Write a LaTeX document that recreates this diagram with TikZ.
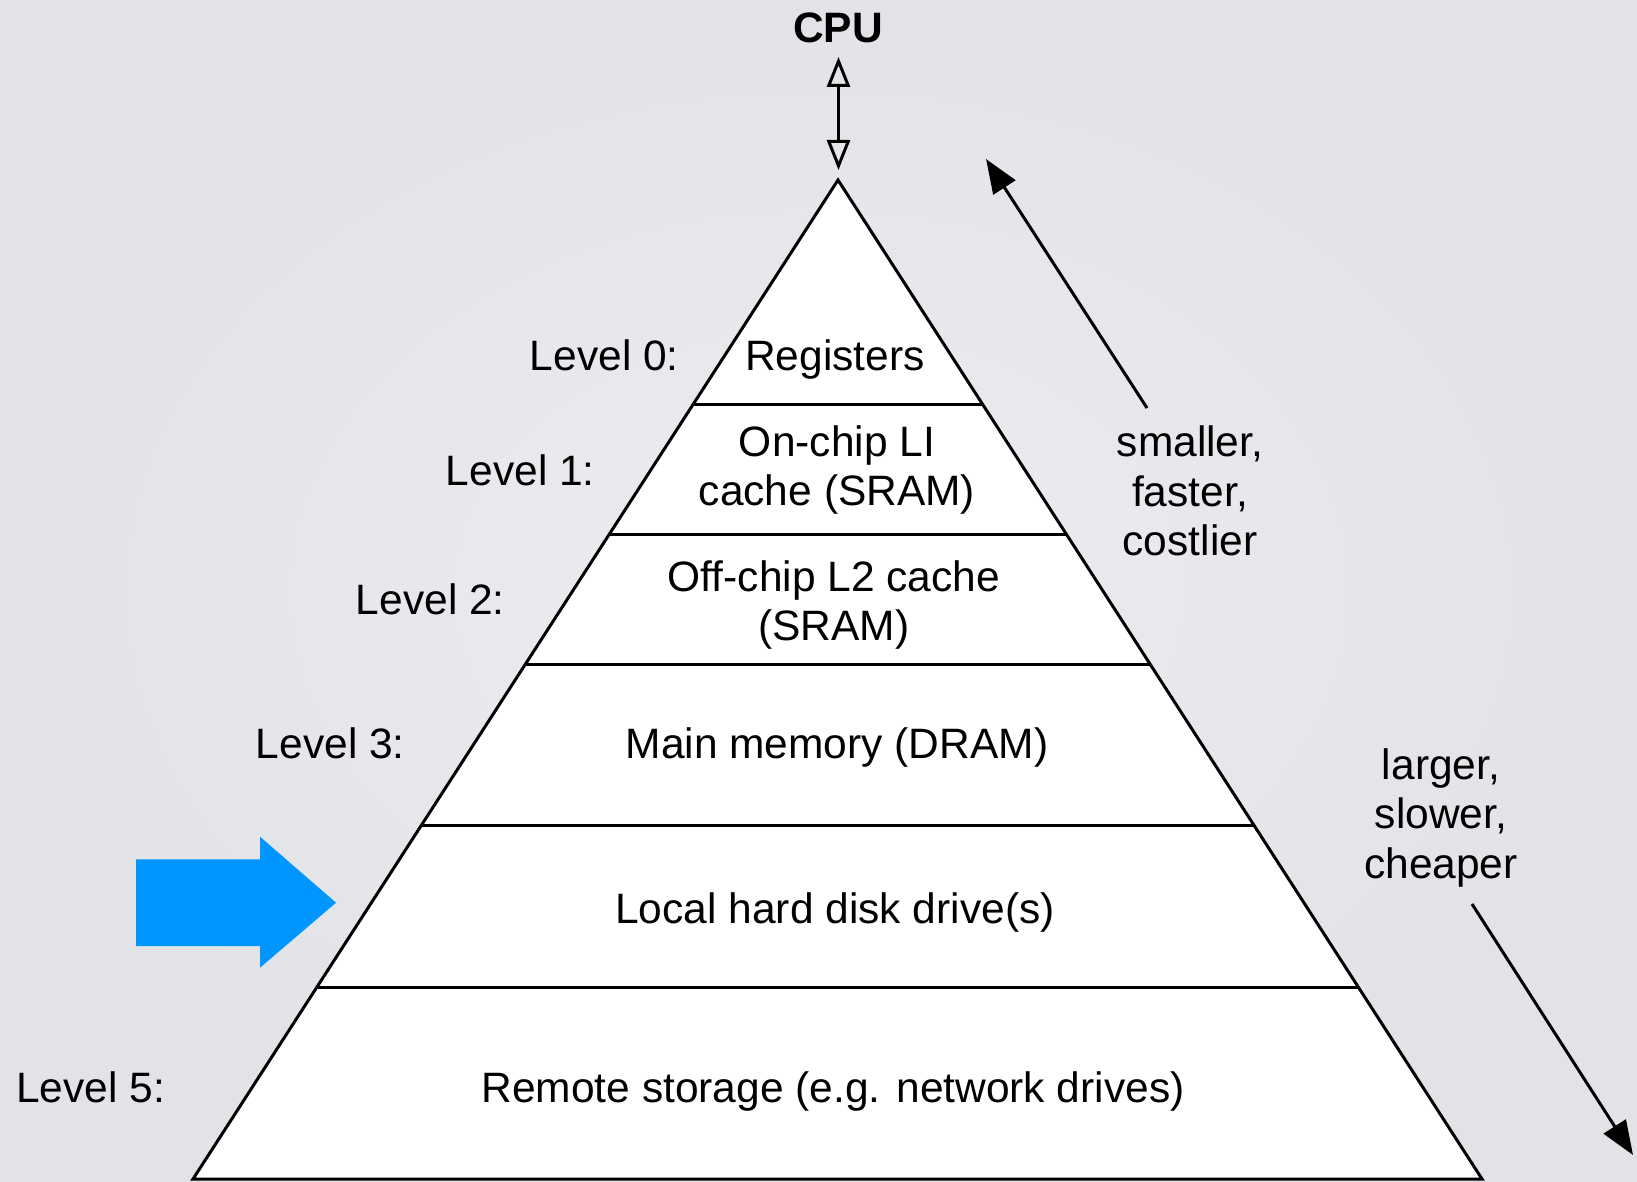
\documentclass[tikz,border=0pt]{standalone}
\usepackage{fontspec}
\setmainfont{Liberation Sans}
\usetikzlibrary{arrows.meta,calc}
\definecolor{bgin}{RGB}{236,237,240}
\definecolor{bgout}{RGB}{225,227,231}
\definecolor{bluearrow}{RGB}{0,150,255}
\begin{document}
\begin{tikzpicture}[x=1pt,y=-1pt,
  lbl/.style={font=\fontsize{42.5}{49.5}\selectfont, inner sep=0pt, align=center},
  edge/.style={line width=3pt, line join=miter},
  sidearrow/.style={line width=3pt, -{Triangle[length=34pt,width=26pt]}},
  cpuarrow/.style={line width=3pt, {Triangle[open,length=30pt,width=23pt]}-{Triangle[open,length=30pt,width=23pt]}},
]
\useasboundingbox (0,0) rectangle (1637,1182);
\shade[inner color=bgin, outer color=bgout] (0,0) rectangle (1637,1182);

% pyramid
\coordinate (apex) at (838,180);
\coordinate (bl) at (193,1179);
\coordinate (br) at (1482,1179);
\draw[edge, fill=white] (apex) -- (bl) -- (br) -- cycle;
\foreach \t in {0.2252,0.3549,0.4845,0.6466,0.8078}
  \draw[edge] ($(apex)!\t!(bl)$) -- ($(apex)!\t!(br)$);

% texts inside pyramid
\node[lbl] (reg) at (835,360) {Registers};
\node[lbl] (l1) at (837,470) {On-chip LI\\cache (SRAM)};
\node[lbl] (l2) at (834,605) {Off-chip L2 cache\\(SRAM)};
\node[lbl] (mem) at (837,748) {Main memory (DRAM)};
\node[lbl] (disk) at (835,912) {Local hard disk drive(s)};
\node[lbl] (remote) at (833,1091) {Remote storage (e.g. network drives)};

% level labels
\node[lbl, anchor=east] (lv0) at (679,355) {Level 0:};
\node[lbl, anchor=east] (lv1) at (595,470) {Level 1:};
\node[lbl, anchor=east] (lv2) at (505,599) {Level 2:};
\node[lbl, anchor=east] (lv3) at (405,743) {Level 3:};
\node[lbl, anchor=west] (lv5) at (16,1087) {Level 5:};

% side notes
\node[lbl] (small) at (1190,491) {smaller,\\faster,\\costlier};
\node[lbl] (large) at (1441,818) {larger,\\slower,\\cheaper};

\coordinate (upS) at (1147,408);
\coordinate (upE) at (986,159);
\coordinate (dnS) at (1472,904);
\coordinate (dnE) at (1633,1155);
\draw[sidearrow] (upS) -- (upE);
\draw[sidearrow] (dnS) -- (dnE);

% CPU
\node[lbl, font=\fontsize{42.5}{49.5}\selectfont\bfseries] (cpu) at (838,28) {CPU};
\coordinate (cpuT) at (838.5,57);
\coordinate (cpuB) at (838.5,170);
\draw[cpuarrow] (cpuT) -- (cpuB);

% blue arrow
\fill[bluearrow] (136,859.3) -- (260,859.3) -- (260,836.7) -- (336,902.7)
  -- (260,967.7) -- (260,946) -- (136,946) -- cycle;
\end{tikzpicture}
\end{document}
